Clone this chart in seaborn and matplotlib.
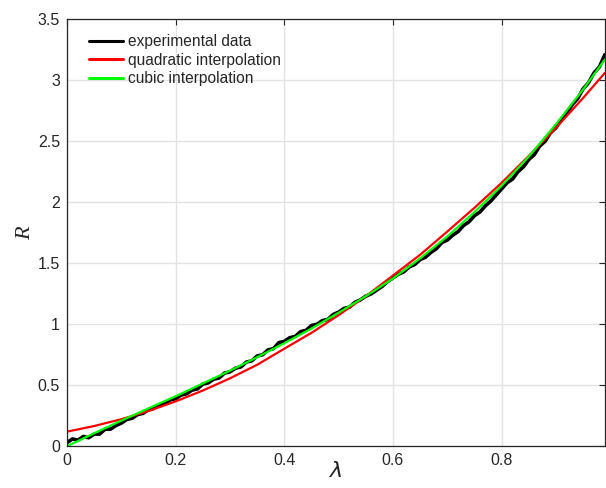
import matplotlib
matplotlib.use("Agg")
import matplotlib.pyplot as plt
import seaborn as sns
import numpy as np
import pandas as pd

# values
lam_exp = np.round(np.arange(0, 100) * 0.01, 2)
r_exp = [0.03, 0.06, 0.05, 0.08, 0.07, 0.10, 0.10, 0.14, 0.14, 0.17,
         0.19, 0.22, 0.23, 0.26, 0.27, 0.30, 0.31, 0.34, 0.35, 0.38,
         0.39, 0.42, 0.43, 0.46, 0.47, 0.51, 0.52, 0.55, 0.56, 0.60,
         0.61, 0.64, 0.65, 0.69, 0.70, 0.74, 0.75, 0.79, 0.80, 0.85,
         0.86, 0.89, 0.90, 0.94, 0.95, 0.99, 1.00, 1.03, 1.04, 1.08,
         1.10, 1.13, 1.14, 1.18, 1.20, 1.23, 1.25, 1.28, 1.31, 1.35,
         1.38, 1.41, 1.43, 1.47, 1.49, 1.53, 1.55, 1.59, 1.62, 1.67,
         1.69, 1.73, 1.76, 1.81, 1.84, 1.89, 1.92, 1.97, 2.01, 2.06,
         2.11, 2.16, 2.19, 2.25, 2.29, 2.35, 2.39, 2.46, 2.50, 2.57,
         2.61, 2.68, 2.73, 2.80, 2.85, 2.93, 2.98, 3.06, 3.11, 3.21]

lam_fit = [0.0, 0.05, 0.1, 0.15, 0.2, 0.25, 0.3, 0.35, 0.4, 0.45, 0.5,
           0.55, 0.6, 0.65, 0.7, 0.75, 0.8, 0.85, 0.9, 0.95, 0.99]
r_quad = [0.12, 0.166, 0.222, 0.289, 0.368, 0.457, 0.557, 0.668, 0.80, 0.93, 1.075,
          1.23, 1.40, 1.57, 1.76, 1.955, 2.16, 2.38, 2.61, 2.855, 3.06]
r_cubic = [0.0, 0.107, 0.210, 0.311, 0.410, 0.515, 0.62, 0.73, 0.845, 0.965, 1.095,
           1.23, 1.375, 1.54, 1.72, 1.92, 2.135, 2.375, 2.64, 2.925, 3.17]

x_ticks = [0, 0.2, 0.4, 0.6, 0.8]
x_tick_labels = ["0", "0.2", "0.4", "0.6", "0.8"]
y_ticks = [0, 0.5, 1, 1.5, 2, 2.5, 3, 3.5]
y_tick_labels = ["0", "0.5", "1", "1.5", "2", "2.5", "3", "3.5"]

sns.set_style("white")
plt.rcParams["font.family"] = ["Liberation Sans", "DejaVu Sans"]

fig = plt.figure(figsize=(6.06, 4.88), dpi=100)
ax = fig.add_axes([0.1106, 0.0855, 0.8884, 0.875])

sns.lineplot(x=lam_exp, y=r_exp, ax=ax, color="black", lw=2.6, label="experimental data")
sns.lineplot(x=lam_fit, y=r_quad, ax=ax, color="#ff0000", lw=1.6, label="quadratic interpolation")
sns.lineplot(x=lam_fit, y=r_cubic, ax=ax, color="#00ff00", lw=1.6, label="cubic interpolation")

ax.set_xlim(0, 0.991)
ax.set_ylim(0, 3.5)
ax.set_xticks(x_ticks)
ax.set_xticklabels(x_tick_labels)
ax.set_yticks(y_ticks)
ax.set_yticklabels(y_tick_labels)
ax.grid(True, color="#e3e3e3", lw=1.0)
ax.set_axisbelow(True)
ax.tick_params(direction="in", length=4, width=0.8, labelsize=11.5, colors="#262626",
               top=True, right=True, pad=5)
for s in ax.spines.values():
    s.set_color("#262626")
    s.set_linewidth(0.9)

ax.set_xlabel(r"$\lambda$", fontsize=16, labelpad=-5)
ax.set_ylabel("R", fontsize=16, family="Liberation Serif", style="italic", labelpad=2)

leg = ax.legend(loc="upper left", bbox_to_anchor=(0.02, 0.99), frameon=False,
                fontsize=11.2, handlelength=2.2, handletextpad=0.35,
                labelspacing=0.21, borderaxespad=0.3)
for line in leg.get_lines():
    line.set_linewidth(2.2)

fig.savefig("out.png", dpi=100)
